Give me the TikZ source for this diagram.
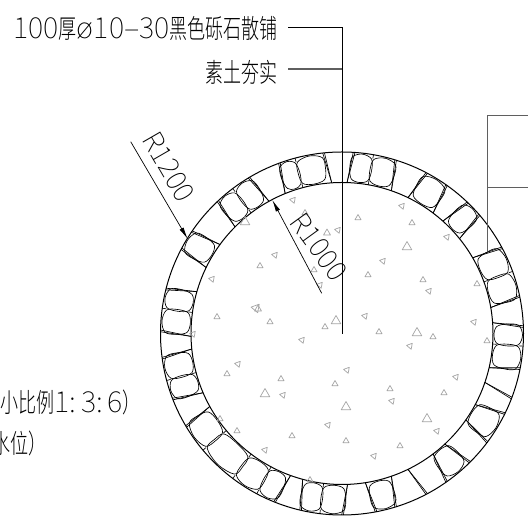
\documentclass[tikz,border=0pt]{standalone}
\usepackage{fontspec}
\setmainfont{Noto Sans CJK SC Light}
\newfontfamily\cadthin{Noto Sans CJK SC Thin}
\usetikzlibrary{arrows.meta, positioning}
\definecolor{leadgray}{RGB}{95, 95, 95}
\definecolor{sandgray}{RGB}{165, 165, 165}
\newcommand{\cnnarrow}[1]{\scalebox{0.68}[1]{#1}}
\newcommand{\cadnum}[1]{{\cadthin\fontsize{29}{30}\selectfont #1}}
\tikzset{
  ringline/.style={black, line width=1pt},
  stoneline/.style={black, line width=0.65pt, line join=round},
  leader/.style={black, line width=0.8pt},
  graylead/.style={leadgray, line width=1.1pt},
  dimline/.style={black, line width=0.7pt, -{Latex[length=12pt, width=4.5pt]}},
  sand/.style={sandgray, line width=0.7pt, line join=round},
  cadtext/.style={inner sep=0pt, font=\fontsize{26.5}{28}\selectfont},
  dimtext/.style={inner sep=0pt, font=\cadthin\fontsize{28}{28}\selectfont}
}
\begin{document}
\begin{tikzpicture}[x=1pt, y=1pt]
  \useasboundingbox (0,0) rectangle (528,518);
  \fill[white] (0,0) rectangle (528,518);
  % ring
  \coordinate (centre) at (342,184.5);
  \draw[ringline] (centre) circle (181.5);
  \draw[ringline] (centre) circle (151);
  \begin{scope}[shift={(centre)}]
    % joints next to an open cell
    \foreach \a [count=\i] in {95,87,72,63,54,47,40,29,11,3,-12,-20,-27,-36,-46,-54,-63,-72,-80,-89,-104,-111,-150,-158,-173,-180,-195,-207,-215,-226,-240,-249} {
      \pgfmathsetmacro{\s}{ifthenelse(mod(\i,2)==0,1.1,-1.1)}
      \draw[stoneline] ({\a+\s}:151) -- ({\a-\s}:181.5);
      \draw[stoneline] ({\a+\s}:151) -- ({\a-0.5*\s}:181.5);
    }
    % joints between two stones
    \foreach \a in {80,20,-4,-97,-118,-127,-140,-165,-188,-233,-255} {
      \draw[stoneline] (\a:151) -- (\a:155);
      \draw[stoneline] (\a:181.5) -- (\a:177.5);
    }
    % stones
    \foreach \a/\b in {87/80,80/72,63/54,47/40,29/20,20/11,3/-4,-4/-12,-27/-36,-46/-54,-72/-80,-89/-97,-97/-104,-111/-118,-118/-127,-127/-140,-140/-150,-158/-165,-165/-173,-180/-188,-188/-195,-207/-215,-226/-233,-233/-240,-249/-255,-255/-264} {
      \pgfmathsetmacro{\m}{(\a+\b)/2}
      \draw[stoneline] plot[smooth cycle, tension=0.55] coordinates {({\a+0.3}:166) ({\a-0.4}:177) (\m:180.5) ({\b+0.4}:177) ({\b-0.3}:166) ({\b+0.4}:155) (\m:152) ({\a-0.4}:155)};
    }
  \end{scope}
  % aggregate
  \foreach \x/\y/\r/\s in {293/200/170/3.5, 305/213/90/3.5, 327/233/90/4, 338/230/170/3.5, 245/222/90/5.5, 275/255/170/3.5,
    260/266/90/3.5, 212/279/170/3.5, 314/270/90/3.5, 320/285/170/3.5, 256/308/170/5, 258/309/90/4, 217/317/90/3.5, 270/322/90/3.5,
    325/327/90/3.5, 336/321/90/5.5, 193/334/170/3.5, 302/340/170/3.5, 402/206/170/3.5, 358/218/90/3.5, 412/223/90/3.5,
    447/237/170/3.5, 407/247/90/5.5, 383/261/170/3.5, 368/275/90/3.5, 423/280/90/3.5, 429/291/170/3.5, 477/284/90/3.5,
    365/316/170/3.5, 379/332/90/3.5, 417/333/90/5.5, 433/337/90/3.5, 474/322/170/3.5, 410/346/170/3.5, 487/341/90/3.5,
    347/370/170/3.5, 281/379/90/3.5, 335/384/90/3.5, 265/394/90/5.5, 283/395/170/3.5, 390/389/90/3.5, 392/401/170/3.5,
    456/377/170/3.5, 444/393/90/3.5, 346/407/90/5.5, 427/419/90/5.5, 437/431/170/3.5, 328/425/170/3.5, 292/436/90/3.5,
    346/441/90/3.5, 400/446/90/3.5, 374/456/170/3.5, 265/450/170/3.5, 310/480/90/3.5, 238/364/170/3.5, 227/374/90/3.5,
    220/419/90/3.5, 237/431/90/3.5} {
    \draw[sand] (\x,{518-\y}) ++(\r:\s) -- ++({\r+150}:{1.732*\s}) -- ++({\r+270}:{1.732*\s}) -- cycle;
  }
  % leaders
  \node[cadtext, anchor=east] (gravel) at (278,490) {\cadnum{100}\cnnarrow{厚}\cadnum{ø10–30}\cnnarrow{黑色砾石散铺}};
  \node[cadtext, anchor=east] (soil) at (278,446) {\cnnarrow{素土夯实}};
  \coordinate (spinetop) at (342,490.5);
  \coordinate (spinemid) at (342,449);
  \coordinate (spineend) at (342,184);
  \draw[leader] (288,490.5) -- (spinetop) -- (spineend);
  \draw[graylead] (288,449) -- (spinemid);
  % box on the right
  \coordinate (boxtr) at (528,402.5);
  \coordinate (boxtl) at (487.7,402.5);
  \coordinate (boxml) at (487.7,330.5);
  \coordinate (boxmr) at (528,330.5);
  \coordinate (boxend) at (487.7,267);
  \draw[graylead] (boxtr) -- (boxtl) -- (boxend);
  \draw[graylead] (boxml) -- (boxmr);
  % radii
  \coordinate (outerfrom) at (130.7,376.3);
  \coordinate (outertip) at (187.7,279);
  \coordinate (innerfrom) at (321.7,224.7);
  \coordinate (innertip) at (272.3,318);
  \draw[dimline] (outerfrom) -- (outertip);
  \draw[dimline] (innerfrom) -- (innertip);
  \node[dimtext, rotate=-60] (rbig) at (169,351) {R1200};
  \node[dimtext, rotate=-54] (rsmall) at (319,271) {R1000};
  % cut off by the page
  \node[cadtext, anchor=east] (mixnote) at (141,116) {\cnnarrow{小比例}\cadnum{1:\,3:\,6}\cnnarrow{）}};
  \node[cadtext, anchor=east] (levelnote) at (47,75) {\cnnarrow{水位）}};
\end{tikzpicture}
\end{document}
